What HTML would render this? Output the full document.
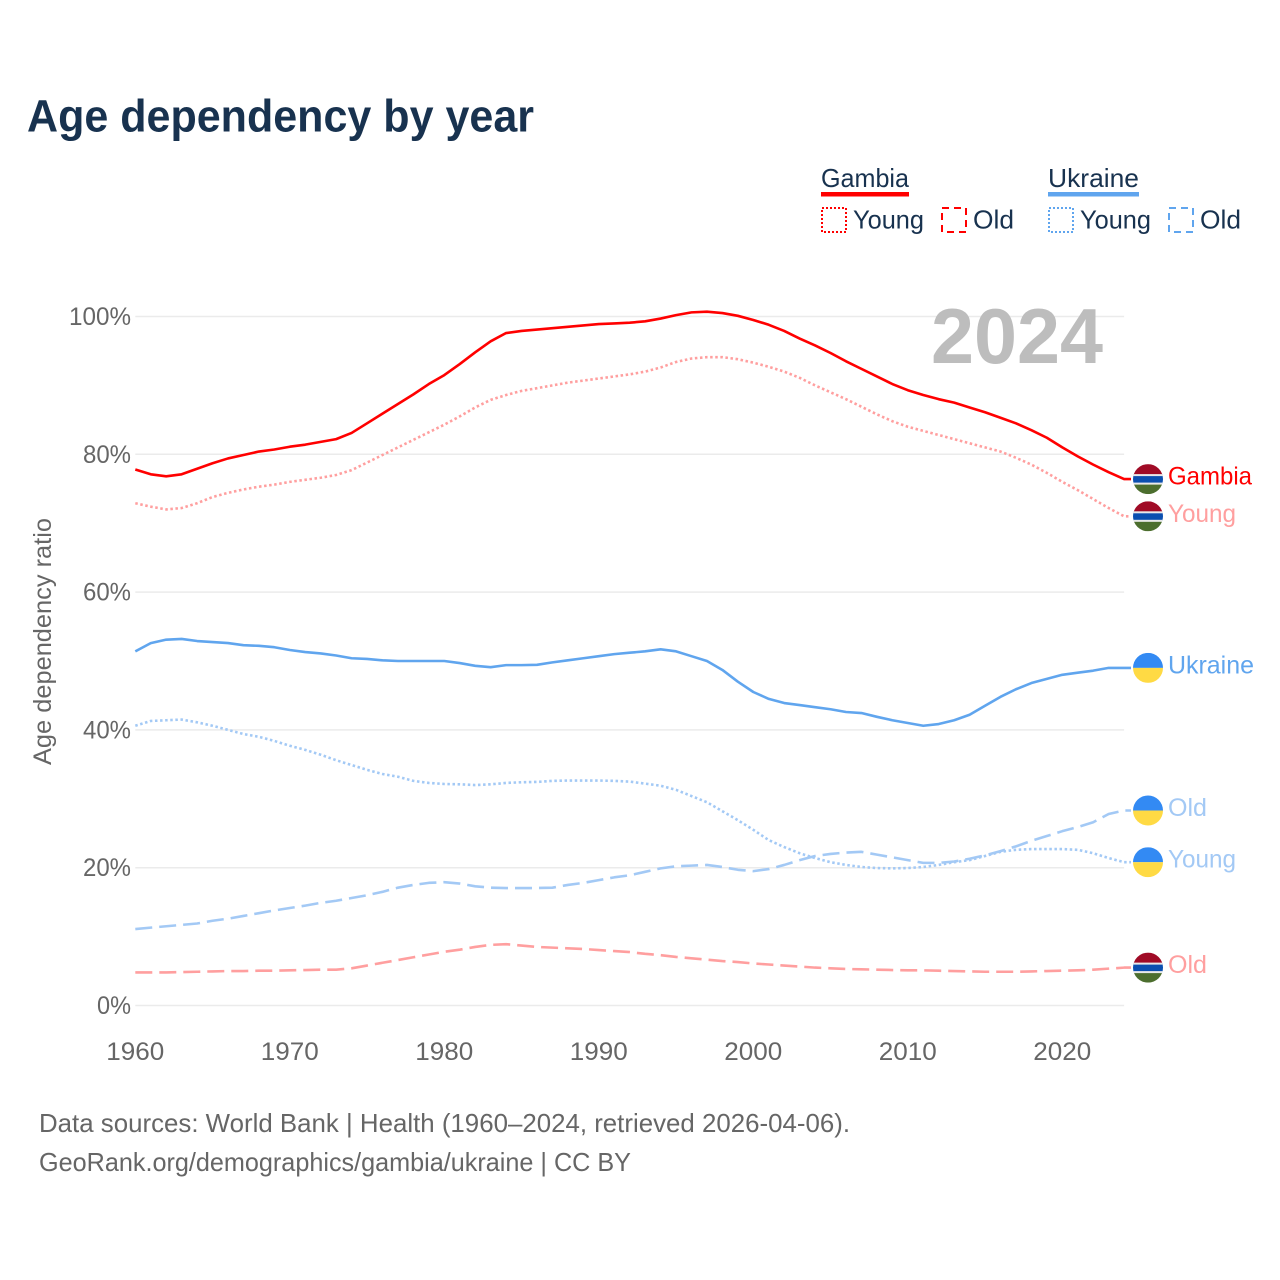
<!DOCTYPE html>
<html lang="en">
<head>
<meta charset="utf-8">
<title>Age dependency by year</title>
<style>
html,body{margin:0;padding:0;background:#fff;width:1280px;height:1280px;overflow:hidden}
svg{display:block;font-family:"Liberation Sans",sans-serif}
</style>
</head>
<body>
<svg id="chart" width="1280" height="1280" viewBox="0 0 1280 1280" xmlns="http://www.w3.org/2000/svg">
<defs>
<clipPath id="flag-clip"><circle cx="0" cy="0" r="15"/></clipPath>
<g id="flag-gm">
<g clip-path="url(#flag-clip)">
<rect x="-15" y="-15" width="30" height="10.5" fill="#a00b26"/>
<rect x="-15" y="-4.5" width="30" height="9" fill="#0b4fb0"/>
<rect x="-15" y="-5" width="30" height="2" fill="#e9e9e9"/>
<rect x="-15" y="3.5" width="30" height="2" fill="#e9e9e9"/>
<rect x="-15" y="5.5" width="30" height="9.5" fill="#4c6e2e"/>
</g>
</g>
<g id="flag-ua">
<g clip-path="url(#flag-clip)">
<rect x="-15" y="-15" width="30" height="15" fill="#338af3"/>
<rect x="-15" y="0" width="30" height="15" fill="#ffda44"/>
</g>
</g>
</defs>

<text x="27" y="131.5" font-size="45" font-weight="700" fill="#18324f" textLength="507" lengthAdjust="spacingAndGlyphs">Age dependency by year</text>

<g font-size="26" fill="#18324f">
<text x="821" y="187" textLength="88" lengthAdjust="spacingAndGlyphs">Gambia</text>
<rect x="821" y="192" width="88" height="4.5" fill="#ff0000"/>
<rect x="822" y="208" width="24" height="24" fill="none" stroke="#ff0000" stroke-width="2" stroke-dasharray="2 2"/>
<text x="853" y="228.5" textLength="71" lengthAdjust="spacingAndGlyphs">Young</text>
<rect x="942" y="208" width="24" height="24" fill="none" stroke="#ff0000" stroke-width="2" stroke-dasharray="7 5"/>
<text x="973" y="228.5" textLength="41" lengthAdjust="spacingAndGlyphs">Old</text>
<text x="1048" y="187" textLength="91" lengthAdjust="spacingAndGlyphs">Ukraine</text>
<rect x="1048" y="192" width="91" height="4.5" fill="#60a5ee"/>
<rect x="1049" y="208" width="24" height="24" fill="none" stroke="#60a5ee" stroke-width="2" stroke-dasharray="2 2"/>
<text x="1080" y="228.5" textLength="71" lengthAdjust="spacingAndGlyphs">Young</text>
<rect x="1169" y="208" width="24" height="24" fill="none" stroke="#60a5ee" stroke-width="2" stroke-dasharray="7 5"/>
<text x="1200" y="228.5" textLength="41" lengthAdjust="spacingAndGlyphs">Old</text>
</g>

<g id="grid"></g>
<text x="931" y="363" font-size="78" font-weight="700" fill="#bdbdbd" textLength="172" lengthAdjust="spacingAndGlyphs">2024</text>
<g id="y-ticks" font-size="25" fill="#666666" text-anchor="end"></g>
<g id="x-ticks" font-size="25" fill="#666666" text-anchor="middle"></g>
<text transform="translate(51,641.5) rotate(-90)" text-anchor="middle" font-size="25" fill="#666666" textLength="247" lengthAdjust="spacingAndGlyphs">Age dependency ratio</text>
<g id="series"></g>
<g id="ends"></g>

<g font-size="26" fill="#666666">
<text x="39" y="1132" textLength="811" lengthAdjust="spacingAndGlyphs">Data sources: World Bank | Health (1960–2024, retrieved 2026-04-06).</text>
<text x="39" y="1171" textLength="592" lengthAdjust="spacingAndGlyphs">GeoRank.org/demographics/gambia/ukraine | CC BY</text>
</g>
</svg>

<script>
const startYear = 1960;
const endYear = 2024;
const yTickValues = [0, 20, 40, 60, 80, 100];
const xTickValues = [1960, 1970, 1980, 1990, 2000, 2010, 2020];

const gambiaTotal = [77.8,77.1,76.8,77.1,77.9,78.7,79.4,79.9,80.4,80.7,81.1,81.4,81.8,82.2,83.1,84.5,85.9,87.3,88.7,90.2,91.5,93.1,94.8,96.4,97.6,97.9,98.1,98.3,98.5,98.7,98.9,99.0,99.1,99.3,99.7,100.2,100.6,100.7,100.5,100.1,99.5,98.8,97.9,96.8,95.8,94.7,93.5,92.4,91.3,90.2,89.3,88.6,88.0,87.5,86.8,86.1,85.3,84.5,83.5,82.4,81.0,79.7,78.5,77.4,76.4];
const gambiaYoung = [72.9,72.4,72.0,72.2,72.9,73.8,74.4,74.9,75.3,75.6,76.0,76.3,76.6,77.0,77.7,78.8,79.9,81.0,82.1,83.2,84.3,85.5,86.8,87.9,88.6,89.2,89.6,90.0,90.4,90.7,91.0,91.3,91.6,92.0,92.6,93.4,93.9,94.1,94.1,93.8,93.3,92.7,92.0,91.1,90.0,89.0,88.0,86.9,85.8,84.8,84.0,83.4,82.8,82.2,81.6,81.0,80.4,79.5,78.5,77.3,76.0,74.8,73.5,72.2,71.0];
const gambiaOld = [4.8,4.8,4.8,4.85,4.9,4.95,5.0,5.0,5.05,5.05,5.1,5.15,5.2,5.2,5.4,5.8,6.2,6.6,7.0,7.4,7.8,8.1,8.5,8.8,8.9,8.7,8.5,8.4,8.3,8.2,8.05,7.9,7.75,7.5,7.3,7.05,6.85,6.65,6.45,6.3,6.1,5.95,5.8,5.65,5.5,5.4,5.3,5.25,5.2,5.15,5.1,5.1,5.05,5.0,4.95,4.9,4.9,4.9,4.95,5.0,5.05,5.1,5.2,5.35,5.5];
const ukraineTotal = [51.4,52.6,53.1,53.2,52.9,52.75,52.6,52.3,52.2,52.0,51.6,51.3,51.1,50.8,50.4,50.3,50.1,50.0,50.0,50.0,50.0,49.7,49.3,49.1,49.4,49.4,49.45,49.8,50.1,50.4,50.7,51.0,51.2,51.4,51.7,51.4,50.7,50.0,48.7,47.0,45.5,44.5,43.9,43.6,43.3,43.0,42.6,42.45,41.9,41.4,41.0,40.6,40.85,41.4,42.2,43.5,44.8,45.9,46.8,47.4,48.0,48.3,48.6,49.0,49.0];
const ukraineYoung = [40.6,41.3,41.4,41.5,41.1,40.6,40.0,39.4,39.0,38.4,37.7,37.1,36.4,35.6,34.9,34.2,33.6,33.2,32.6,32.3,32.15,32.1,32.0,32.1,32.3,32.4,32.45,32.6,32.65,32.65,32.65,32.6,32.5,32.2,31.9,31.3,30.4,29.5,28.2,26.9,25.5,24.0,23.0,22.1,21.4,20.8,20.4,20.1,19.95,19.9,19.95,20.1,20.4,20.8,21.1,21.7,22.3,22.6,22.7,22.7,22.7,22.6,22.1,21.4,20.8];
const ukraineOld = [11.1,11.3,11.5,11.7,11.9,12.3,12.6,13.0,13.4,13.8,14.15,14.5,14.9,15.2,15.6,16.0,16.5,17.1,17.5,17.8,17.9,17.7,17.3,17.1,17.05,17.05,17.05,17.1,17.5,17.8,18.2,18.6,18.9,19.4,19.9,20.2,20.3,20.4,20.1,19.7,19.5,19.8,20.4,21.1,21.7,22.0,22.2,22.3,21.9,21.5,21.1,20.7,20.7,20.9,21.3,21.8,22.4,23.1,23.9,24.6,25.3,25.9,26.6,27.8,28.3];

const seriesLabels = ['Gambia','Young','Old','Ukraine','Young','Old'];
const seriesValues = [gambiaTotal, gambiaYoung, gambiaOld, ukraineTotal, ukraineYoung, ukraineOld];
const seriesKeys = ['gambia-total','gambia-young','gambia-old','ukraine-total','ukraine-young','ukraine-old'];
const seriesStyles = ['solid','dotted','dashed','solid','dotted','dashed'];
const seriesColors = ['#ff0000','#ff9f9f','#ff9f9f','#60a5ee','#a3c9f5','#a3c9f5'];
const seriesFlags = ['gm','gm','gm','ua','ua','ua'];

const NS = 'http://www.w3.org/2000/svg';
function xScale(year){ return 135.3 + (year - startYear) * 15.45; }
function yScale(pct){ return 1005.5 - pct * 6.89; }
function make(tag, attrs, parent){
  const el = document.createElementNS(NS, tag);
  Object.keys(attrs).forEach(function(k){ el.setAttribute(k, attrs[k]); });
  parent.appendChild(el);
  return el;
}
function labelWidth(name){
  if (name === 'Old') return 39;
  if (name === 'Young') return 68;
  if (name === 'Gambia') return 84;
  return 86;
}
const dashFor = { solid: 'none', dotted: '2.5 2.6', dashed: '17 7' };
const gridG = document.getElementById('grid');
const yTicksG = document.getElementById('y-ticks');
const xTicksG = document.getElementById('x-ticks');
const seriesG = document.getElementById('series');
const endsG = document.getElementById('ends');

yTickValues.forEach(function(v){
  const line = make('line', {x1: xScale(startYear), x2: xScale(endYear), y1: yScale(v), y2: yScale(v), stroke: '#ebebeb', 'stroke-width': 1.5}, gridG);
  
  
  const str = v + '%';
  const t = make('text', {x: 131, y: yScale(v) + 8.5, textLength: 20 + (str.length - 2) * 14 + 14, lengthAdjust: 'spacingAndGlyphs'}, yTicksG);
  
  
  t.textContent = str;
});

xTickValues.forEach(function(v){
  const t = make('text', {x: xScale(v), y: 1060, textLength: 58, lengthAdjust: 'spacingAndGlyphs'}, xTicksG);
  
  
  t.textContent = String(v);
});

seriesValues.forEach(function(values, i){
  const pts = values.map(function(v, k){ return xScale(startYear + k).toFixed(2) + ',' + yScale(v).toFixed(2); });
  const lastY = yScale(values[values.length - 1]);
  pts.push('1131,' + lastY.toFixed(2));
  const line = make('polyline', {points: pts.join(' '), fill: 'none', stroke: seriesColors[i], 'stroke-width': 2.6, 'stroke-linejoin': 'round', 'stroke-dasharray': dashFor[seriesStyles[i]]}, seriesG);
  
  

  const flag = make('use', {href: '#flag-' + seriesFlags[i], x: 1148, y: lastY}, endsG);
  
  

  const label = make('text', {x: 1168, y: lastY + 5.5, 'font-size': 25, fill: seriesColors[i], textLength: labelWidth(seriesLabels[i]), lengthAdjust: 'spacingAndGlyphs'}, endsG);
  
  
  label.textContent = seriesLabels[i];
});
</script>
</body>
</html>
